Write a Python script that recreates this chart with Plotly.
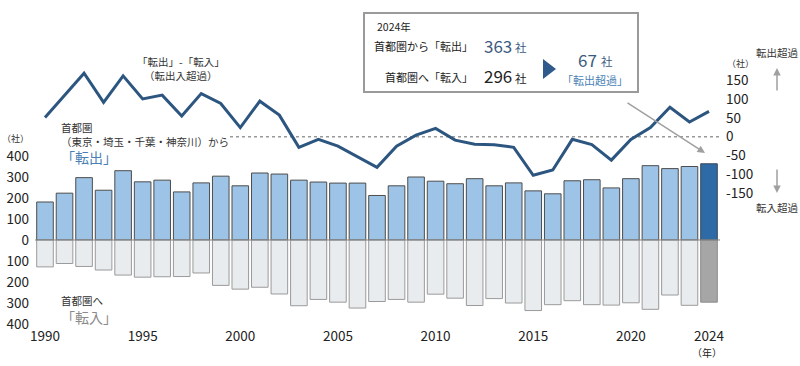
import plotly.graph_objects as go

years = list(range(1990, 2025))
tenshutsu = [181, 223, 297, 237, 330, 277, 285, 229, 272, 304,
             258, 319, 314, 285, 276, 271, 271, 212, 258, 300,
             280, 268, 292, 258, 272, 234, 220, 282, 287, 248,
             292, 354, 340, 350, 363]
tennyu = [128, 112, 126, 143, 167, 177, 175, 174, 157, 216,
          234, 225, 257, 313, 283, 296, 324, 293, 283, 296,
          258, 277, 312, 279, 300, 336, 308, 289, 308, 310,
          299, 330, 262, 311, 296]
net = [51, 110, 168, 91, 161, 100, 110, 55, 114, 88,
       24, 94, 57, -28, -7, -25, -53, -81, -25, 4,
       22, -9, -20, -21, -28, -102, -88, -7, -21, -62,
       -7, 24, 78, 39, 67]

left_ticks = [400, 300, 200, 100, 0, -100, -200, -300, -400]
right_ticks = [150, 100, 50, 0, -50, -100, -150]
x_ticks = [1990, 1995, 2000, 2005, 2010, 2015, 2020, 2024]

FONT = "Noto Sans CJK JP"
W, H = 800, 366
PL, PR, PT, PB = 30, 725, 40, 326
YEAR_PX = (709 - 45) / 34
X0_PX = 45
Z_LEFT, S_LEFT = 240, 0.21
Z_RIGHT, S_RIGHT = 136.7, 0.378


def px(x):
    return (x - PL) / (PR - PL)


def py(y):
    return (PB - y) / (PB - PT)


def xyear(x):
    return 1990 + (x - X0_PX) / YEAR_PX


out_colors = ["#9dc3e6"] * (len(years) - 1) + ["#2e6aa5"]
out_lines = ["#4d4d4d"] * (len(years) - 1) + ["#3a4a5a"]
in_colors = ["#e9ecef"] * (len(years) - 1) + ["#a6a6a6"]
in_lines = ["#9a9a9a"] * (len(years) - 1) + ["#8a8a8a"]

fig = go.Figure()
fig.add_trace(go.Bar(x=years, y=tenshutsu, marker=dict(color=out_colors, line=dict(color=out_lines, width=1)),
                     showlegend=False, hoverinfo="skip"))
fig.add_trace(go.Bar(x=years, y=[-v for v in tennyu], marker=dict(color=in_colors, line=dict(color=in_lines, width=1)),
                     showlegend=False, hoverinfo="skip"))
fig.add_trace(go.Scatter(x=years, y=net, yaxis="y2", mode="lines",
                         line=dict(color="#2c5680", width=3), showlegend=False, hoverinfo="skip"))

fig.update_layout(
    width=W, height=H,
    margin=dict(l=PL, r=W - PR, t=PT, b=H - PB, autoexpand=False),
    plot_bgcolor="white", paper_bgcolor="white",
    barmode="relative", bargap=0.15,
    font=dict(family=FONT, color="#222", size=13),
    xaxis=dict(range=[xyear(PL), xyear(PR)], tickvals=x_ticks, ticktext=[str(v) for v in x_ticks],
               showgrid=False, zeroline=False, showline=False, ticks="", automargin=False,
               tickfont=dict(size=13.5, color="#222")),
    yaxis=dict(range=[-(PB - Z_LEFT) / S_LEFT, (Z_LEFT - PT) / S_LEFT], tickvals=left_ticks,
               ticktext=[str(abs(v)) for v in left_ticks], showgrid=False, zeroline=False,
               showline=False, ticks="", automargin=False, tickfont=dict(size=13.5, color="#222")),
    yaxis2=dict(range=[-(PB - Z_RIGHT) / S_RIGHT, (Z_RIGHT - PT) / S_RIGHT], overlaying="y", side="right",
                tickvals=right_ticks, ticktext=[str(v) for v in right_ticks], showgrid=False,
                zeroline=False, showline=False, ticks="", automargin=False,
                tickfont=dict(size=13.5, color="#222")),
)

shapes = [
    dict(type="line", xref="x", yref="y", x0=xyear(35), x1=xyear(720), y0=0, y1=0,
         line=dict(color="#808080", width=1.2), layer="above"),
    dict(type="line", xref="x", yref="y2", x0=xyear(230), x1=xyear(720), y0=0, y1=0,
         line=dict(color="#999999", width=1.5, dash="dot"), layer="below"),
    dict(type="rect", xref="paper", yref="paper", x0=px(364), x1=px(638), y0=py(92), y1=py(13),
         line=dict(color="#9a9a9a", width=2), fillcolor="white"),
    dict(type="path", xref="paper", yref="paper",
         path=f"M {px(543)} {py(59)} L {px(556)} {py(69)} L {px(543)} {py(79)} Z",
         fillcolor="#2e5a8c", line=dict(width=0)),
]
fig.update_layout(shapes=shapes)

anns = []


def txt(x, y, text, size=11, color="#333", xanchor="left", yanchor="middle", align="left"):
    anns.append(dict(x=px(x), y=py(y), xref="paper", yref="paper", text=text, showarrow=False,
                     xanchor=xanchor, yanchor=yanchor, align=align, borderpad=0,
                     font=dict(family=FONT, size=size, color=color)))


# box contents
txt(376, 26, "2024年", size=10.5, color="#222")
txt(474, 46, "首都圏から「転出」", size=11, color="#222", xanchor="right")
txt(483, 45, "363", size=17, color="#3c5a80")
txt(514, 47, "社", size=11.5, color="#3c5a80")
txt(474, 77, "首都圏へ「転入」", size=11, color="#222", xanchor="right")
txt(483, 76, "296", size=17, color="#222")
txt(514, 78, "社", size=11.5, color="#222")
txt(577, 59, "67", size=17, color="#3c5a80")
txt(600, 61, "社", size=11.5, color="#3c5a80")
txt(595, 80, "「転出超過」", size=11, color="#4a7fb5", xanchor="center")

# left labels
txt(181, 69, "「転出」-「転入」<br>（転出入超過）", size=10.5, color="#333", xanchor="center", align="center")
txt(60, 134, "首都圏<br>（東京・埼玉・千葉・神奈川）から", size=10.5, color="#333")
txt(60, 157, "「転出」", size=14, color="#4a7fb5")
txt(60, 300, "首都圏へ", size=10.5, color="#333")
txt(60, 317, "「転入」", size=14, color="#8a8a8a")

# units
txt(15, 138, "（社）", size=9, color="#333", xanchor="center")
txt(740, 63, "（社）", size=9, color="#333", xanchor="center")
txt(777, 53, "転出超過", size=10.5, color="#333", xanchor="center")
txt(777, 207, "転入超過", size=10.5, color="#333", xanchor="center")
txt(707, 352, "（年）", size=10, color="#222", xanchor="center")

# arrows
for hx, hy, ax, ay in [(705, 153, -79, -51), (777, 68, 0, 24), (777, 193, 0, -25)]:
    anns.append(dict(x=px(hx), y=py(hy), xref="paper", yref="paper", ax=ax, ay=ay, text="",
                     showarrow=True, arrowhead=2, arrowsize=1, arrowwidth=1.5, arrowcolor="#a0a0a0"))

fig.update_layout(annotations=anns)
fig.write_html("out.html")
